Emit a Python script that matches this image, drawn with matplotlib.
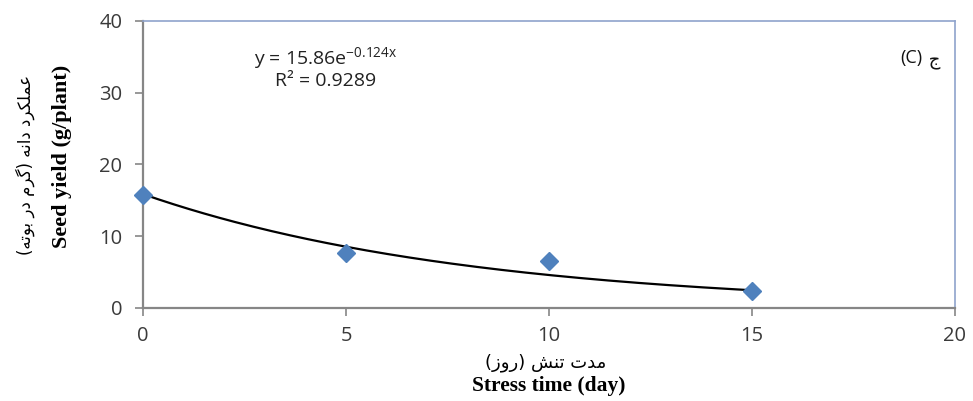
import numpy as np
import matplotlib
matplotlib.use("Agg")
import matplotlib.pyplot as plt

# ---- data ----
stress_days = [0, 5, 10, 15]
seed_yield = [15.8, 7.6, 6.5, 2.3]
fit_a = 15.86
fit_b = -0.124
x_ticks = [0, 5, 10, 15, 20]
y_ticks = [0, 10, 20, 30, 40]

# ---- simple Arabic/Persian shaper (presentation forms + visual order) ----
FORMS = {
    '\u0627': ('\uFE8D', '\uFE8E', None, None),
    '\u0628': ('\uFE8F', '\uFE90', '\uFE91', '\uFE92'),
    '\u062A': ('\uFE95', '\uFE96', '\uFE97', '\uFE98'),
    '\u062C': ('\uFE9D', '\uFE9E', '\uFE9F', '\uFEA0'),
    '\u062F': ('\uFEA9', '\uFEAA', None, None),
    '\u0631': ('\uFEAD', '\uFEAE', None, None),
    '\u0632': ('\uFEAF', '\uFEB0', None, None),
    '\u0634': ('\uFEB5', '\uFEB6', '\uFEB7', '\uFEB8'),
    '\u0639': ('\uFEC9', '\uFECA', '\uFECB', '\uFECC'),
    '\u0644': ('\uFEDD', '\uFEDE', '\uFEDF', '\uFEE0'),
    '\u0645': ('\uFEE1', '\uFEE2', '\uFEE3', '\uFEE4'),
    '\u0646': ('\uFEE5', '\uFEE6', '\uFEE7', '\uFEE8'),
    '\u0647': ('\uFEE9', '\uFEEA', '\uFEEB', '\uFEEC'),
    '\u0648': ('\uFEED', '\uFEEE', None, None),
    '\u06A9': ('\uFB8E', '\uFB8F', '\uFB90', '\uFB91'),
    '\u06AF': ('\uFB92', '\uFB93', '\uFB94', '\uFB95'),
}


def shape(text):
    out = []
    n = len(text)
    for i, ch in enumerate(text):
        if ch not in FORMS:
            out.append(ch)
            continue
        prev = text[i - 1] if i > 0 else ''
        nxt = text[i + 1] if i < n - 1 else ''
        join_prev = prev in FORMS and FORMS[prev][2] is not None
        join_next = nxt in FORMS and FORMS[ch][2] is not None
        iso, fin, ini, med = FORMS[ch]
        if join_prev and join_next:
            out.append(med)
        elif join_prev:
            out.append(fin)
        elif join_next:
            out.append(ini)
        else:
            out.append(iso)
    vis = ''.join(reversed(out))
    vis = vis.translate(str.maketrans({'(': ')', ')': '('}))
    return vis


fa_ylabel = shape('عملکرد دانه (گرم در بوته)')
fa_xlabel = shape('مدت تنش (روز)')
fa_panel = shape('ج')

plt.rcParams['font.family'] = ['Open Sans', 'DejaVu Sans']
plt.rcParams['mathtext.default'] = 'regular'

fig = plt.figure(figsize=(9.73, 4.01), dpi=100)
ax = fig.add_axes([0.147, 0.232, 0.8345, 0.716])

xs = np.linspace(stress_days[0], stress_days[-1], 200)
ax.plot(xs, fit_a * np.exp(fit_b * xs), color='black', lw=1.6, zorder=2)
ax.plot(stress_days, seed_yield, linestyle='none', marker='D', markersize=9,
        color='#4F81BD', zorder=3, clip_on=False)

ax.set_xlim(0, 20)
ax.set_ylim(0, 40)
ax.set_xticks(x_ticks)
ax.set_yticks(y_ticks)
ax.tick_params(axis='both', direction='out', length=6, width=1.2,
               color='#868686', labelsize=14.5, labelcolor='#3A3A3A')
ax.tick_params(axis='y', pad=9)
ax.tick_params(axis='x', pad=7)

for s in ['left', 'bottom']:
    ax.spines[s].set_color('#868686')
    ax.spines[s].set_linewidth(1.6)
for s in ['top', 'right']:
    ax.spines[s].set_color('#8FA3CC')
    ax.spines[s].set_linewidth(1.2)

ax.text(4.5, 34.8, r'y = 15.86e$^{-0.124x}$', ha='center', va='center',
        fontsize=14, color='#222222')
ax.text(4.5, 31.6, 'R² = 0.9289', ha='center', va='center',
        fontsize=14, color='#222222')

ax.text(19.2, 34.8, '(C)', ha='right', va='center', fontsize=13, color='#111111')
ax.text(19.2, 34.4, ' ' + fa_panel, ha='left', va='center', fontsize=13,
        color='#111111', family=['DejaVu Sans'])

fig.text(0.064, 0.611, 'Seed yield (g/plant)', rotation=90, ha='center', va='center',
         fontsize=16, fontweight='bold', family=['Liberation Serif'])
fig.text(0.026, 0.589, fa_ylabel, rotation=90, ha='center', va='center',
         fontsize=12, family=['DejaVu Sans'])
fig.text(0.561, 0.095, fa_xlabel, ha='center', va='center', fontsize=13,
         family=['DejaVu Sans'])
fig.text(0.564, 0.037, 'Stress time (day)', ha='center', va='center',
         fontsize=15.5, fontweight='bold', family=['Liberation Serif'])

fig.savefig('out.png', dpi=100)
